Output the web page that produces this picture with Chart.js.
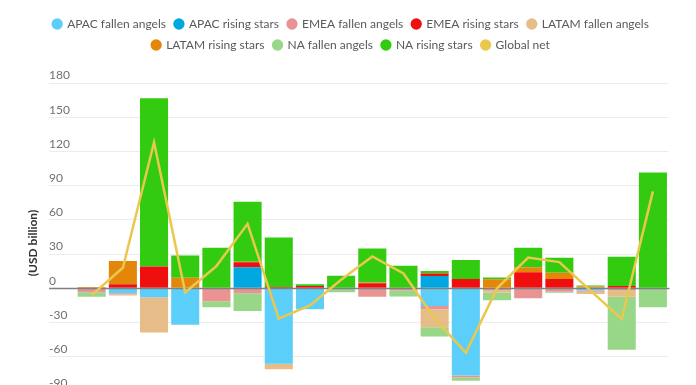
<!DOCTYPE html>
<html>
<head>
<meta charset="utf-8">
<script src="https://cdn.jsdelivr.net/npm/chart.js@4.4.0/dist/chart.umd.min.js"></script>
<style>
  html, body { margin: 0; padding: 0; background: #fff; overflow: hidden; }
  #wrap { width: 696px; height: 391px; position: relative; }
</style>
</head>
<body>
<div id="wrap"><canvas id="chart"></canvas></div>
<script>
// x labels are not visible in the picture (cut off below), so plain period numbers
const periods = ['1', '2', '3', '4', '5', '6', '7', '8', '9', '10',
                 '11', '12', '13', '14', '15', '16', '17', '18', '19'];

// USD billion
const apacFallen   = [0, -4.4, -7.9, -32, 0, 0, -66.2, -18.4, 0, 0, 0, -15.5, -76.4, 0, 0, 0, -2, 0, 0];
const apacRising   = [0, 0, 0, 0, 0, 18.4, 0, 0, 0, 0, 0, 10.8, 0, 0, 0, 0, 0, 0, 0];
const emeaFallen   = [-3.5, -0.8, 0, 0, -11.4, -4.4, 0, 0, 0, -7.3, -2, -2.9, -1.7, -1.5, -8.7, -2.9, -1, -1.5, 0];
const emeaRising   = [0, 3.5, 19.2, 0, 0, 4.4, 1.2, 2, 0, 4.4, 0, 2.3, 8.2, 0, 14, 8.2, 0, 2, 0];
const latamFallen  = [0, -1, -30.9, 0, 0, 0, -4.7, 0, 0, 0, 0, -15.7, 0, -2.3, 0, 0, -2, -5.8, 0];
const latamRising  = [1.2, 20.4, 0, 9.3, 0, 0.6, 0, 0, 0, 0.8, 0, 0, 0, 7.9, 4.4, 5.5, 1.5, 0, 0];
const naFallen     = [-3.8, 0, 0, 0, -5.2, -15.5, 0, 0, -3.5, 0, -5.2, -8.2, -2.9, -6.7, 0, -1, 0, -46.6, -16.6];
const naRising     = [0, 0, 147.5, 19.5, 35.6, 52.5, 43.3, 1.5, 11, 29.7, 19.8, 2, 16.6, 1.7, 17.2, 13.1, 1, 25.7, 101.5];
const globalNet    = [-6, 18, 128, -3.5, 19.5, 56.5, -26.5, -15, 7.5, 28, 13, -26.5, -56.5, 0, 27, 23, -2, -27, 85];

const yTicks = { min: -90, max: 180, step: 30 };

function barSet(label, data, color) {
    return {
        type: 'bar',
        label: label,
        data: data,
        backgroundColor: color,
        borderWidth: 0,
        barPercentage: 0.9,
        categoryPercentage: 1.0
    };
}

// push the plot area down a bit below the legend
const legendGap = {
    id: 'legendGap',
    beforeLayout(chart) {
        const legend = chart.legend;
        if (legend && !legend._gapPatched) {
            const fit = legend.fit;
            legend.fit = function () {
                fit.call(this);
                this.height += 22;
            };
            legend._gapPatched = true;
        }
    }
};

// dark zero line over the bars, under the net line
const zeroLine = {
    id: 'zeroLine',
    beforeDatasetDraw(chart, args) {
        if (args.index !== 8) return;
        const { ctx, chartArea, scales } = chart;
        const y = Math.round(scales.y.getPixelForValue(0)) + 0.5;
        ctx.save();
        ctx.strokeStyle = '#808080';
        ctx.lineWidth = 1.3;
        ctx.beginPath();
        ctx.moveTo(chartArea.left - 27, y);
        ctx.lineTo(chartArea.right + 1, y);
        ctx.stroke();
        ctx.restore();
    }
};

const yTitle = {
    id: 'yTitle',
    afterDraw(chart) {
        const ctx = chart.ctx;
        ctx.save();
        ctx.translate(chart.chartArea.left - 43, 243);
        ctx.rotate(-Math.PI / 2);
        ctx.font = 'bold 12px Lato';
        ctx.fillStyle = '#333333';
        ctx.textAlign = 'center';
        ctx.textBaseline = 'middle';
        ctx.fillText('(USD billion)', 0, 0);
        ctx.restore();
    }
};

const ctx = document.getElementById('chart').getContext('2d');
new Chart(ctx, {
    data: {
        labels: periods,
        datasets: [
            barSet('APAC fallen angels', apacFallen, '#5bcff9'),
            barSet('APAC rising stars', apacRising, '#00a7e1'),
            barSet('EMEA fallen angels', emeaFallen, '#e99393'),
            barSet('EMEA rising stars', emeaRising, '#ef0f0f'),
            barSet('LATAM fallen angels', latamFallen, '#e6bd88'),
            barSet('LATAM rising stars', latamRising, '#e3860a'),
            barSet('NA fallen angels', naFallen, '#98d688'),
            barSet('NA rising stars', naRising, '#32cb10'),
            {
                type: 'line',
                label: 'Global net',
                data: globalNet,
                borderColor: '#eac84e',
                backgroundColor: '#eac84e',
                borderWidth: 2.5,
                pointRadius: 0,
                pointHoverRadius: 0,
                tension: 0,
                stack: 'net',
                order: -1
            }
        ]
    },
    options: {
        responsive: true,
        maintainAspectRatio: false,
        animation: false,
        layout: { padding: { top: 9, left: 33.5, right: 27.5, bottom: 0 } },
        plugins: {
            tooltip: { enabled: false },
            legend: {
                position: 'top',
                align: 'center',
                labels: {
                    usePointStyle: true,
                    pointStyle: 'circle',
                    boxWidth: 8,
                    boxHeight: 8,
                    padding: 9,
                    color: '#5a5a5a',
                    font: { family: 'Lato', size: 12 },
                    sort: (a, b) => a.datasetIndex - b.datasetIndex,
                    generateLabels(chart) {
                        const items = Chart.defaults.plugins.legend.labels.generateLabels(chart);
                        items.forEach(it => {
                            it.strokeStyle = it.fillStyle;
                            it.lineWidth = 0;
                            it.pointStyle = 'circle';
                        });
                        return items;
                    }
                }
            }
        },
        scales: {
            x: {
                stacked: true,
                display: false
            },
            y: {
                stacked: true,
                min: yTicks.min,
                max: yTicks.max,
                border: { display: false },
                grid: {
                    color: '#ececec',
                    tickColor: '#ececec',
                    lineWidth: 1,
                    drawTicks: true,
                    tickLength: 27
                },
                ticks: {
                    stepSize: yTicks.step,
                    mirror: true,
                    padding: -27,
                    crossAlign: 'near',
                    labelOffset: -7.5,
                    color: '#707070',
                    font: { family: 'Lato', size: 12 }
                },
                afterFit(scale) {
                    scale.width = 42.6;
                }
            }
        }
    },
    plugins: [legendGap, zeroLine, yTitle]
});
</script>
</body>
</html>
